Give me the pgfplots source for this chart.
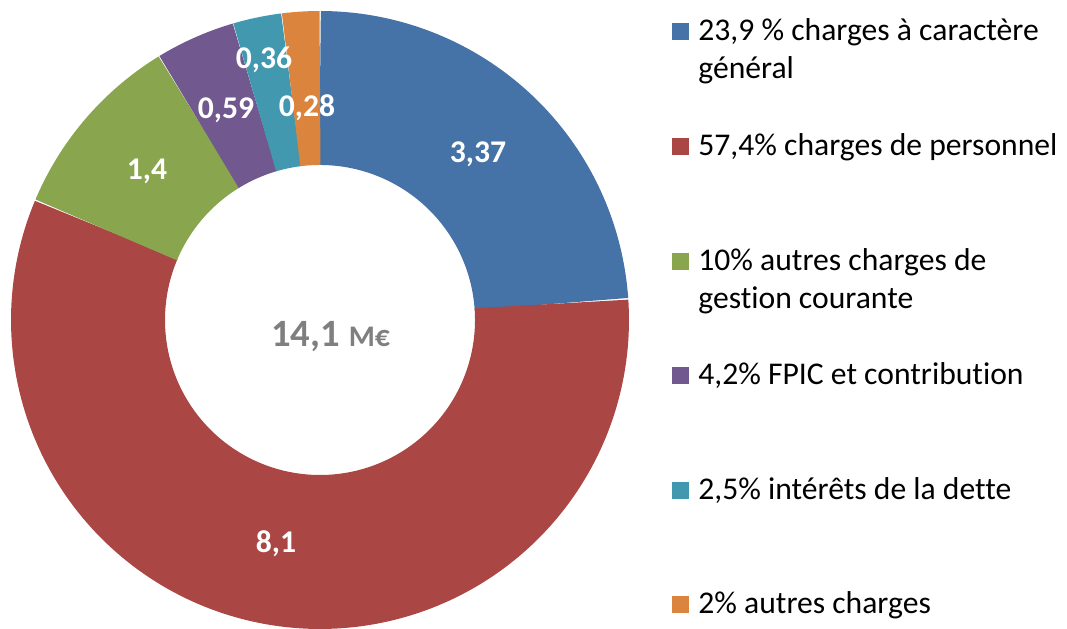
\documentclass[border=0pt]{standalone}
\usepackage{pgfplots}
\pgfplotsset{compat=1.18}
\usepackage{fontspec}
\setmainfont[Ligatures=NoCommon]{Carlito}
\definecolor{cA}{HTML}{4572A7}
\definecolor{cB}{HTML}{AA4643}
\definecolor{cC}{HTML}{89A54E}
\definecolor{cD}{HTML}{71588F}
\definecolor{cE}{HTML}{4198AF}
\definecolor{cF}{HTML}{DB843D}
\definecolor{ctr}{HTML}{7F7F7F}
% values (M EUR)
\def\vA{3.37}\def\vB{8.1}\def\vC{1.4}\def\vD{0.59}\def\vE{0.36}\def\vF{0.28}
\pgfmathsetmacro\tot{\vA+\vB+\vC+\vD+\vE+\vF}
\pgfmathsetmacro\aO{90}
\pgfmathsetmacro\aA{\aO-360*\vA/\tot}
\pgfmathsetmacro\aB{\aA-360*\vB/\tot}
\pgfmathsetmacro\aC{\aB-360*\vC/\tot}
\pgfmathsetmacro\aD{\aC-360*\vD/\tot}
\pgfmathsetmacro\aE{\aD-360*\vE/\tot}
\pgfmathsetmacro\aF{\aE-360*\vF/\tot}
\begin{document}
\begin{tikzpicture}
\begin{axis}[hide axis, scale only axis, x=0.02cm, y=0.02cm,
  xmin=-320, xmax=747, ymin=-307, ymax=320, clip=false]
\path (axis cs:-320,-307) rectangle (axis cs:747,320);
\addplot[draw=cA, line width=3.08cm, data cs=polar, domain=\aO:\aA, samples=80] {232};
\addplot[draw=cB, line width=3.08cm, data cs=polar, domain=\aA:\aB, samples=160] {232};
\addplot[draw=cC, line width=3.08cm, data cs=polar, domain=\aB:\aC, samples=40] {232};
\addplot[draw=cD, line width=3.08cm, data cs=polar, domain=\aC:\aD, samples=20] {232};
\addplot[draw=cE, line width=3.08cm, data cs=polar, domain=\aD:\aE, samples=20] {232};
\addplot[draw=cF, line width=3.08cm, data cs=polar, domain=\aE:\aF, samples=20] {232};
% data labels
\begin{scope}[every node/.style={inner sep=0pt, anchor=base, text=white, font=\fontsize{18}{22}\selectfont\bfseries}]
\node at (axis cs:158,157) {3,37};
\node at (axis cs:-44,-233) {8,1};
\node at (axis cs:-173,140) {1,4};
\node at (axis cs:-94,201) {0,59};
\node at (axis cs:-56,251) {0,36};
\node at (axis cs:-13,203) {0,28};
\end{scope}
% centre
\node[inner sep=0pt, anchor=base west, text=ctr] at (axis cs:-49,-27)
  {\fontsize{22}{26}\selectfont\bfseries 14,1 {\fontsize{17}{20}\selectfont M€}};
% legend
\begin{scope}[every node/.style={inner sep=0pt, anchor=base west, font=\fontsize{18}{22}\selectfont}]
\fill[cA] (axis cs:352,280) rectangle (axis cs:369,297);
\node at (axis cs:378,279) {23,9 \% charges à caractère};
\node at (axis cs:378,241) {général};
\fill[cB] (axis cs:352,165) rectangle (axis cs:369,182);
\node at (axis cs:378,164) {57,4\% charges de personnel};
\fill[cC] (axis cs:352,50) rectangle (axis cs:369,67);
\node at (axis cs:378,49) {10\% autres charges de};
\node at (axis cs:378,11) {gestion courante};
\fill[cD] (axis cs:352,-64) rectangle (axis cs:369,-47);
\node at (axis cs:378,-65) {4,2\% FPIC et contribution};
\fill[cE] (axis cs:352,-179) rectangle (axis cs:369,-162);
\node at (axis cs:378,-180) {2,5\% intérêts de la dette};
\fill[cF] (axis cs:352,-293) rectangle (axis cs:369,-276);
\node at (axis cs:378,-294) {2\% autres charges};
\end{scope}
\end{axis}
\end{tikzpicture}
\end{document}
